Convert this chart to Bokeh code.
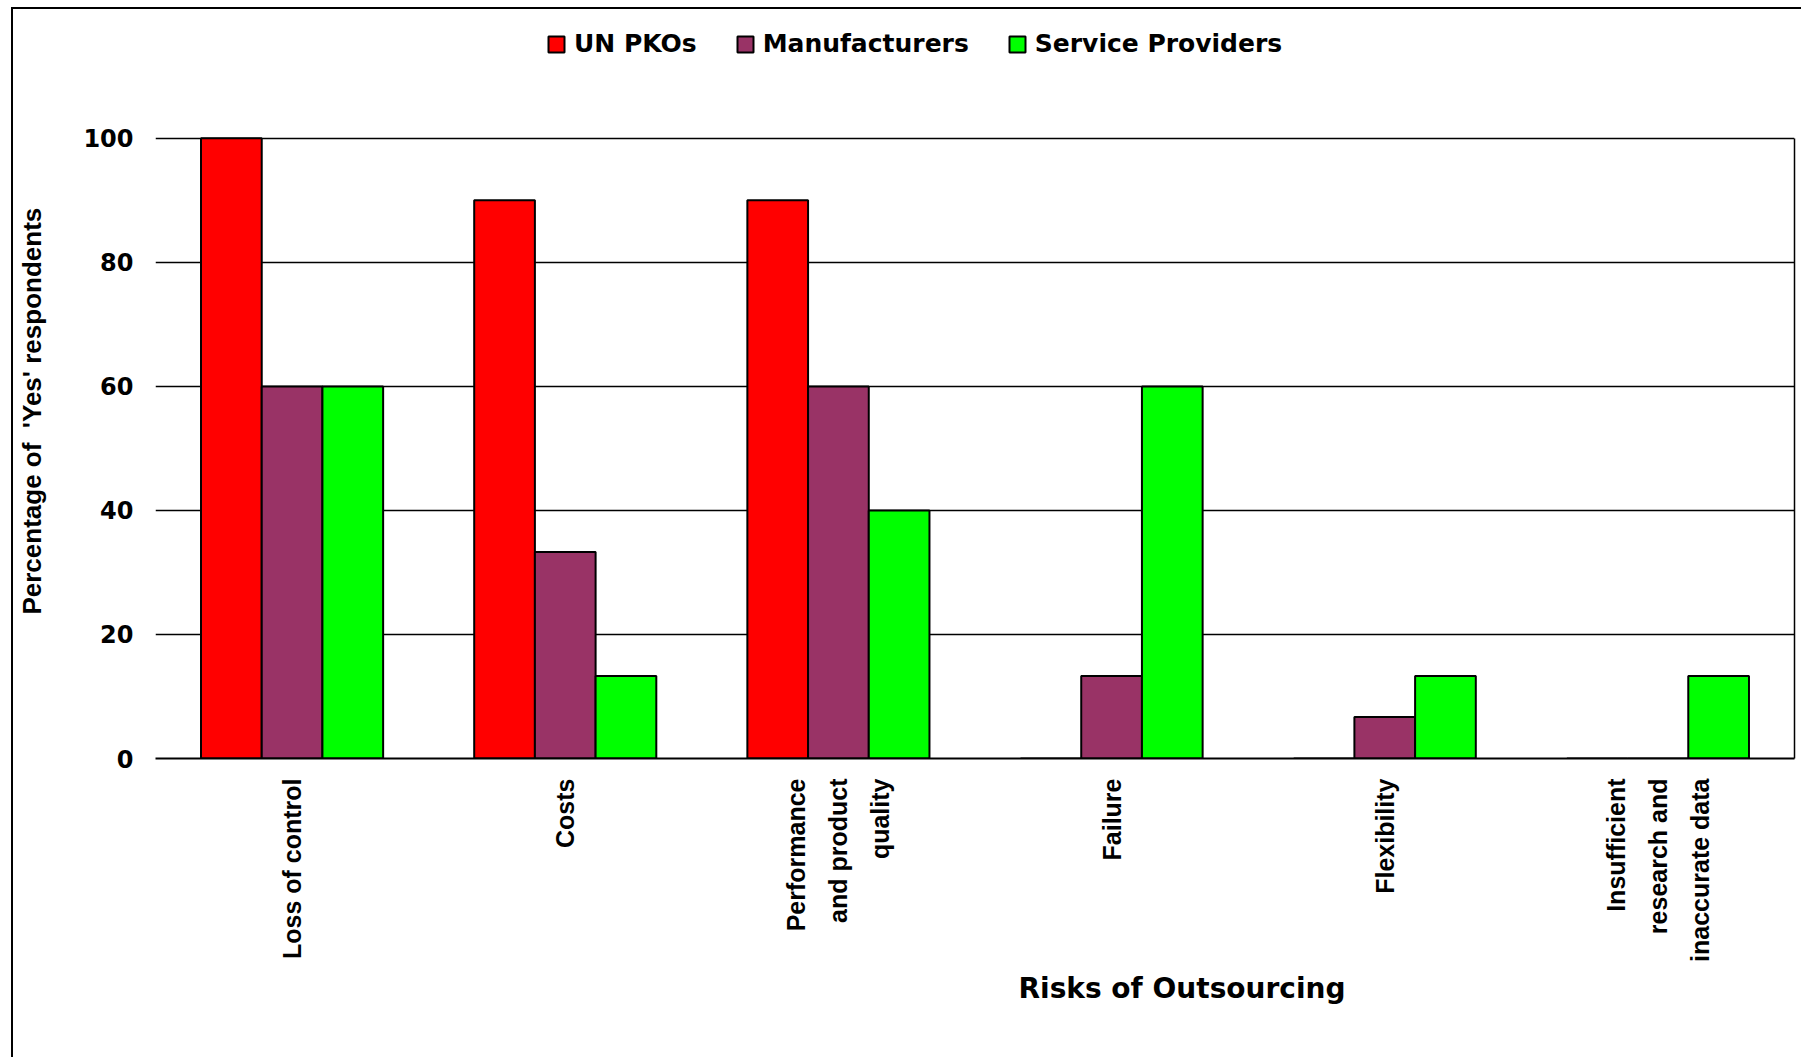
import math
from bokeh.plotting import figure
from bokeh.models import (FactorRange, Range1d, LinearAxis, Legend, LegendItem,
                          Title, FixedTicker, ColumnDataSource)
from bokeh.transform import dodge
from bokeh.embed import file_html
from bokeh.resources import INLINE

# ---- data ----
categories = ["Loss of control", "Costs", "Performance\nand product\nquality",
              "Failure", "Flexibility", "Insufficient\nresearch and\ninaccurate data"]
un_pkos = [100, 90, 90, 0, 0, 0]
manufacturers = [60, 33.3, 60, 13.3, 6.7, 0]
service_providers = [60, 13.3, 40, 60, 13.3, 13.3]
series_names = ["UN PKOs", "Manufacturers", "Service Providers"]
series_colors = ["#FF0000", "#993366", "#00FF00"]
y_ticks = [0, 20, 40, 60, 80, 100]
x_title = "Risks of Outsourcing"
y_title = "Percentage of \u00a0'Yes' respondents"

source = ColumnDataSource(dict(cat=categories, s0=un_pkos, s1=manufacturers, s2=service_providers))

p = figure(x_range=FactorRange(*categories, range_padding=0),
           y_range=Range1d(0, 119),
           width=1790, height=1050,
           output_backend="svg", toolbar_location=None,
           min_border_left=142, min_border_top=11, min_border_right=9, min_border_bottom=301,
           margin=(7, 0, 0, 11),
           styles={"border-left": "2px solid #000", "border-top": "2px solid #000"})

bar_w = 1 / 4.5
offsets = [-bar_w, 0, bar_w]
renderers = []
for i, (name, color) in enumerate(zip(series_names, series_colors)):
    r = p.vbar(x=dodge("cat", offsets[i], range=p.x_range), top="s%d" % i, width=bar_w,
               source=source, fill_color=color, line_color="black", line_width=2)
    renderers.append(r)

p.outline_line_color = None
p.background_fill_color = "white"
p.border_fill_color = "white"

# x axis
xa = p.xaxis[0]
xa.axis_line_color = "black"
xa.axis_line_width = 2
xa.major_tick_line_color = None
xa.minor_tick_line_color = None
xa.major_label_orientation = math.pi / 2
xa.major_label_text_font = "Liberation Sans"
xa.major_label_text_font_style = "bold"
xa.major_label_text_font_size = "25px"
xa.major_label_text_color = "black"
xa.major_label_standoff = 14
xa.major_label_text_line_height = 1.5
# centre the shorter lines of the wrapped labels (pad their ends with no-break spaces)
NB = "\u00a0"
xa.major_label_overrides = {
    categories[2]: "Performance\nand product" + NB + "\nquality" + NB * 5,
    categories[5]: "Insufficient" + NB * 4 + "\nresearch and" + NB * 2 + "\ninaccurate data",
}
p.xgrid.visible = False

# y axis (title padded at its end so that it sits slightly below the frame's centre)
ya = p.yaxis[0]
ya.ticker = FixedTicker(ticks=y_ticks)
ya.axis_line_color = None
ya.major_tick_line_color = None
ya.minor_tick_line_color = None
ya.major_label_text_font = "DejaVu Sans"
ya.major_label_text_font_style = "bold"
ya.major_label_text_font_size = "24px"
ya.major_label_text_color = "black"
ya.major_label_standoff = 16
ya.axis_label = y_title + NB * 6
ya.axis_label_standoff = 33
ya.axis_label_text_font = "Liberation Sans"
ya.axis_label_text_font_style = "bold"
ya.axis_label_text_font_size = "26px"
ya.axis_label_text_color = "black"
p.ygrid.ticker = FixedTicker(ticks=y_ticks)
p.ygrid.grid_line_color = "black"
p.ygrid.grid_line_width = 1.5

# right border line of plot area (only from 0 to 100)
ra = LinearAxis(ticker=FixedTicker(ticks=[]), bounds=(0, 100),
                axis_line_color="black", axis_line_width=1.5,
                major_tick_line_color=None, minor_tick_line_color=None,
                major_label_text_font_size="0px")
p.add_layout(ra, "right")

# legend (inside the frame's top band, above the 100 gridline)
legend = Legend(items=[LegendItem(label=n, renderers=[r]) for n, r in zip(series_names, renderers)],
                orientation="horizontal", location=(391, 700),
                glyph_width=20, glyph_height=20, label_standoff=8, spacing=38,
                padding=0, margin=0, border_line_color=None, background_fill_alpha=0,
                label_text_font="DejaVu Sans", label_text_font_style="bold",
                label_text_font_size="25px", label_text_color="black")
p.add_layout(legend, "center")

# x axis title
p.add_layout(Title(text=x_title, align="left", offset=863, standoff=10,
                   text_font="DejaVu Sans", text_font_style="bold", text_font_size="28px",
                   text_color="black"), "below")

open("out.html", "w").write(file_html(p, INLINE))
